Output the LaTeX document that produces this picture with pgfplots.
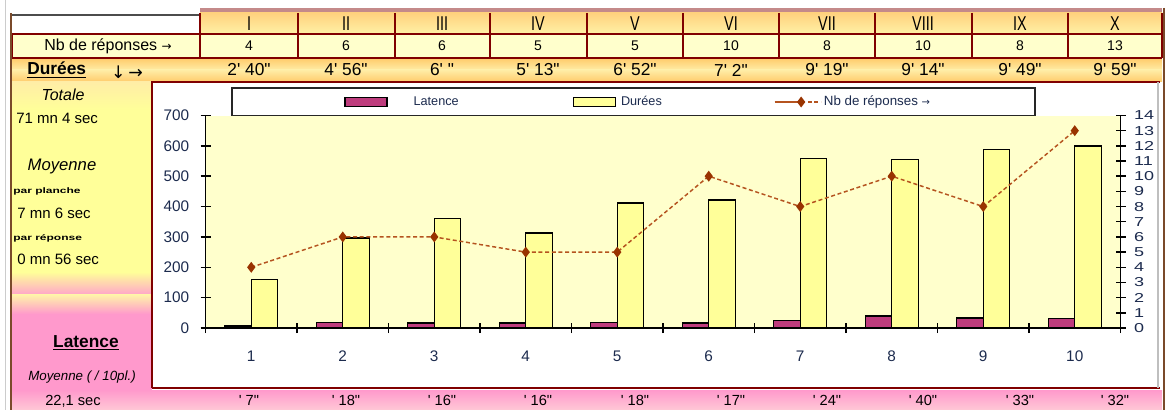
\documentclass[border=0pt]{standalone}
\usepackage{pgfplots}
\usepackage{pgfplotstable}
\pgfplotsset{compat=1.18}
\usepackage{fontspec}
\setmainfont{Liberation Sans}
\newfontfamily\symfont{DejaVu Sans}

\definecolor{darkred}{HTML}{800000}
\definecolor{bandred}{HTML}{C48A8A}
\definecolor{latcol}{RGB}{190,60,125}
\definecolor{durcol}{HTML}{FFFF99}
\definecolor{plotbg}{HTML}{FFFFCC}
\definecolor{paleyel}{HTML}{FFFFCC}
\definecolor{linecol}{HTML}{B5531F}
\definecolor{markcol}{HTML}{993300}
\definecolor{ticktxt}{HTML}{1C2B4E}
\definecolor{orA}{HTML}{FFCA6A}
\definecolor{orB}{HTML}{FFEDA6}
\definecolor{rowA}{HTML}{FFD27E}
\definecolor{rowB}{HTML}{FFF1A6}
\definecolor{pinkA}{HTML}{FF99CC}
\definecolor{pinkB}{HTML}{FFA8C8}
\definecolor{pinkC}{HTML}{FFC8D6}
\definecolor{yelB}{HTML}{FFF7A8}
\definecolor{edgebrown}{HTML}{7A4A2A}

\newcommand\sq{\textquotesingle}
\newcommand\dq{\textquotedbl}
\newcommand\fs[1]{\fontsize{#1}{#1}\selectfont}

% planche, latence (s), duree (s), nb de reponses
\pgfplotstableread{
cat lat dur nb
1  7  160 4
2  18 296 6
3  16 360 6
4  16 313 5
5  18 412 5
6  17 422 10
7  24 559 8
8  40 554 10
9  33 589 8
10 32 599 13
}\planches

\pgfplotsset{
  barleg/.style={legend image code/.code={\draw[##1] (0pt,-3.2pt) rectangle (31.5pt,3.2pt);}},
  lineleg/.style={linecol, line width=1.1pt, dash pattern=on 3pt off 2pt,
    mark=diamond*, mark size=3.2pt, mark options={solid, fill=markcol, draw=markcol},
    legend image code/.code={%
      \draw[##1,mark=none] (0pt,0pt) -- (30pt,0pt);
      \draw[##1] plot coordinates {(15pt,0pt)};}},
}

\begin{document}
\begin{tikzpicture}
\begin{scope}[x=0.75pt,y=-0.75pt,every node/.style={inner sep=0pt}]
\useasboundingbox (0,0) rectangle (1167,410);
\fill[white] (0,0) rectangle (1167,410);
% spreadsheet rows
\fill[bandred] (200,8) rectangle (1162,13);
\shade[top color=rowA,bottom color=rowB] (200,13) rectangle (1162,34);
\fill[paleyel] (12,34) rectangle (1162,58);
\shade[top color=orA,bottom color=orB] (12,58) rectangle (1162,70);
\shade[top color=orB,bottom color=orA] (12,70) rectangle (1162,82);
% left panel
\shade[top color=orB,bottom color=durcol] (12,82) rectangle (152,110);
\fill[durcol] (12,110) rectangle (152,272);
\shade[top color=durcol,bottom color=pinkB] (12,272) rectangle (152,294);
\shade[top color=yelB,bottom color=pinkA] (12,294) rectangle (152,314);
\fill[pinkA] (12,314) rectangle (152,390);
\shade[top color=pinkA,bottom color=pinkC] (12,390) rectangle (1162,410);
% chart area
\fill[white] (152,82) rectangle (1160,388);
\fill[white] (232,88) rectangle (1035,116);
% grid lines
\draw[gray!60!black,line width=1.1pt] (12,15) -- (200,15);
\draw[darkred,line width=2pt] (12,34) -- (1162,34);
\draw[darkred,line width=2.2pt] (12,58) -- (1162,58);
\foreach \x in {200,298,395,490,587,683,779,875,972,1068,1162}
  \draw[darkred,line width=1.6pt] (\x,13) -- (\x,58);
\draw[darkred,line width=1.6pt] (12,34) -- (12,58);
\draw[darkred,line width=2.2pt] (152,388) -- (152,82) -- (1160,82);
\draw[darkred,line width=2.2pt] (152,388) -- (1160,388);
\draw[gray!50,line width=0.8pt] (1158,82) -- (1158,388);
\draw[edgebrown,line width=1.1pt] (11,13) -- (11,410);
\draw[gray!40,line width=0.75pt] (5,0) -- (5,410);
\draw[edgebrown,line width=1.1pt] (1164,8) -- (1164,410);
% table text
\foreach \x/\t in {249/I,346/II,442/III,538/IV,635/V,731/VI,827/VII,923/VIII,1020/IX,1115/X}
  \node at (\x,24) {\scalebox{0.72}[1]{\fs{15}\t}};
\node at (108,46) {\fs{12}Nb de réponses {\symfont\fs{9}→}};
\foreach \x/\t in {249/4,346/6,442/6,538/5,635/5,731/10,827/8,923/10,1020/8,1115/13}
  \node at (\x,46) {\fs{10.5}\t};
\node[anchor=west] at (27,70) {\fs{13}\bfseries\underline{Durées}};
\node at (127,72) {\symfont\fs{13}↓\,→};
\foreach \x/\t in {249/{2\sq\ 40\dq},346/{4\sq\ 56\dq},442/{6\sq\ \dq},538/{5\sq\ 13\dq},635/{6\sq\ 52\dq},731/{7\sq\ 2\dq},827/{9\sq\ 19\dq},923/{9\sq\ 14\dq},1020/{9\sq\ 49\dq},1115/{9\sq\ 59\dq}}
  \node at (\x,70) {\fs{13}\t};
% left panel text
\node at (63,95) {\fs{12}\itshape Totale};
\node[anchor=west] at (16,118) {\fs{11.25}71 mn 4 sec};
\node at (62,166) {\fs{12.5}\itshape Moyenne};
\node[anchor=west] at (13,191) {\scalebox{1.5}[1]{\fs{6}\bfseries par planche}};
\node[anchor=west] at (17,213) {\fs{11.25}7 mn 6 sec};
\node[anchor=west] at (13,238) {\scalebox{1.5}[1]{\fs{6}\bfseries par réponse}};
\node[anchor=west] at (17,259) {\fs{11.25}0 mn 56 sec};
\node at (86,343) {\fs{13}\bfseries\underline{Latence}};
\node at (82,377) {\fs{10}\itshape Moyenne ( / 10pl.)};
\node[anchor=west] at (45,401) {\fs{11}22,1 sec};
\foreach \x/\t in {249/7,346/18,442/16,538/16,635/18,731/17,827/24,923/40,1020/33,1115/32}
  \node at (\x,400) {\fs{11}\sq\ \t\dq};
\end{scope}

\begin{axis}[
  at={(154.125pt,-246pt)}, anchor=south west,
  scale only axis, width=686.25pt, height=159.375pt,
  xmin=0.5, xmax=10.5, ymin=0, ymax=700,
  axis x line*=bottom, axis y line*=left,
  axis line style={black,line width=1.1pt,-},
  axis background/.style={fill=plotbg},
  ybar=0pt, bar width=0.29,
  xtick={0.5,1.5,...,10.5},
  xticklabels={1,2,3,4,5,6,7,8,9,10,},
  x tick label as interval,
  ytick={0,100,...,700},
  /pgf/number format/assume math mode=true,
  tick align=center, major tick length=7.5pt,
  tick style={black,line width=1.1pt},
  ticklabel style={font=\fs{11.5}, text=ticktxt},
  xticklabel style={yshift=-10pt},
  yticklabel style={xshift=-5pt},
  legend columns=3,
  legend cell align=left,
  legend style={draw=none, fill=none, at={(0.1514,1.0635)}, anchor=west,
    inner sep=0pt, nodes={inner sep=0pt}, font=\fs{9.5}, text=ticktxt,
    /tikz/column 1/.style={column sep=19.5pt},
    /tikz/column 2/.style={column sep=85.5pt},
    /tikz/column 3/.style={column sep=3.75pt},
    /tikz/column 4/.style={column sep=84pt},
    /tikz/column 5/.style={column sep=1.5pt}},
]
\addplot[fill=latcol, draw=black, line width=1pt, barleg] table[x=cat,y=lat]{\planches};
\addlegendentry{Latence}
\addplot[fill=durcol, draw=black, line width=1pt, barleg] table[x=cat,y=dur]{\planches};
\addlegendentry{Durées}
\addlegendimage{lineleg}
\addlegendentry{\fs{10}Nb de réponses {\symfont\fs{7.5}→}}
\end{axis}

\begin{axis}[
  at={(154.125pt,-246pt)}, anchor=south west,
  scale only axis, width=686.25pt, height=159.375pt,
  xmin=0.5, xmax=10.5, ymin=0, ymax=14,
  axis x line=none, axis y line*=right,
  axis line style={black,line width=1.1pt,-},
  ytick={0,1,...,14},
  /pgf/number format/assume math mode=true,
  tick align=center, major tick length=7.5pt,
  tick style={black,line width=1.1pt},
  yticklabel style={font=\fs{13.5}, text=ticktxt, xshift=3pt},
  yticklabel={\scalebox{1}[0.72]{\pgfmathprintnumber{\tick}}},
]
\addplot[lineleg] table[x=cat,y=nb]{\planches};
\end{axis}

\begin{scope}[x=0.75pt,y=-0.75pt]
\draw[black!85,line width=1.1pt] (232,88) rectangle (1035,115.5);
\end{scope}
\end{tikzpicture}
\end{document}
